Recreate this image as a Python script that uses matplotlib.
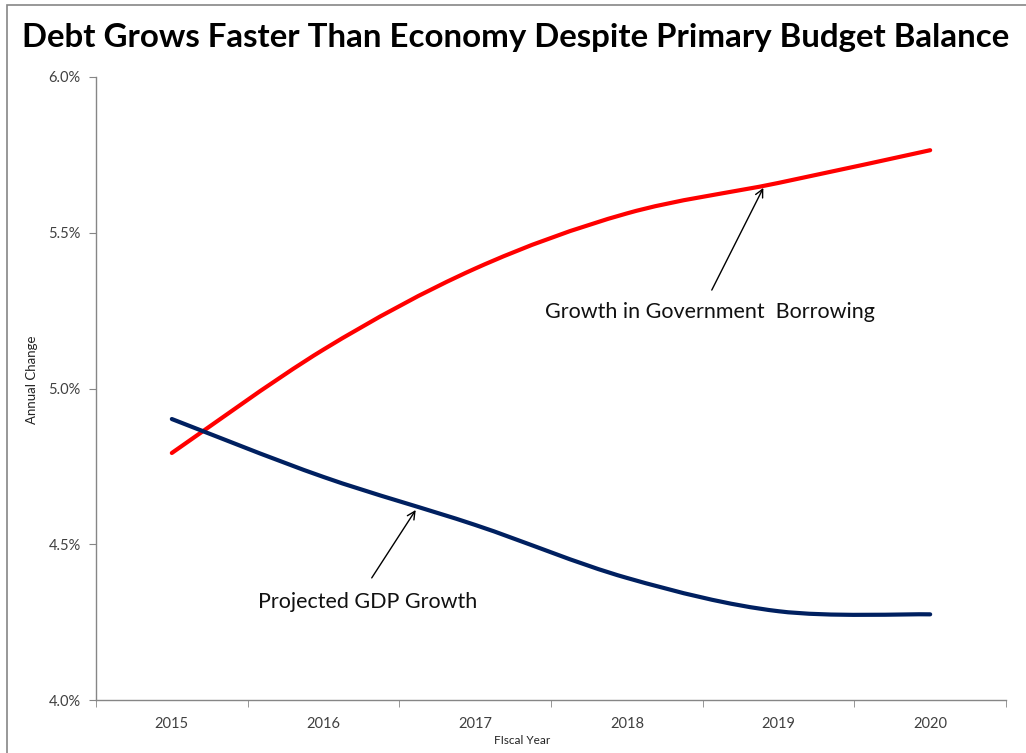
import numpy as np
import matplotlib
matplotlib.use('Agg')
import matplotlib.pyplot as plt
from matplotlib.path import Path
from matplotlib.patches import PathPatch, Rectangle
from matplotlib.ticker import FixedLocator, FuncFormatter

plt.rcParams['font.family'] = ['Lato', 'DejaVu Sans']

# data
years = ['2015', '2016', '2017', '2018', '2019', '2020']
borrowing = [4.793, 5.125, 5.385, 5.562, 5.660, 5.765]
gdp = [4.902, 4.716, 4.562, 4.392, 4.285, 4.275]


def smooth_path(xs, ys):
    # bezier segments with 1/6 tangents, like a spreadsheet "smoothed line"
    pts = np.column_stack([xs, ys]).astype(float)
    n = len(pts)
    verts = [pts[0]]
    codes = [Path.MOVETO]
    for i in range(n - 1):
        p0 = pts[max(i - 1, 0)]
        p1 = pts[i]
        p2 = pts[i + 1]
        p3 = pts[min(i + 2, n - 1)]
        c1 = p1 + (p2 - p0) / 6.0
        c2 = p2 - (p3 - p1) / 6.0
        verts += [c1, c2, p2]
        codes += [Path.CURVE4] * 3
    return Path(verts, codes)


fig = plt.figure(figsize=(10.26, 7.53), dpi=100)
ax = fig.add_axes([96 / 1026, 53 / 753, 910 / 1026, 623 / 753])

x = np.arange(len(years))
for vals, col in [(borrowing, '#ff0000'), (gdp, '#002060')]:
    patch = PathPatch(smooth_path(x, vals), facecolor='none', edgecolor=col,
                      lw=3.0, capstyle='round', joinstyle='round')
    ax.add_patch(patch)

ax.set_xlim(-0.5, len(years) - 0.5)
ax.set_ylim(4.0, 6.0)

# axes styling
for s in ['top', 'right']:
    ax.spines[s].set_visible(False)
for s in ['left', 'bottom']:
    ax.spines[s].set_color('#868686')
    ax.spines[s].set_linewidth(1.0)

ax.yaxis.set_major_locator(FixedLocator([4.0, 4.5, 5.0, 5.5, 6.0]))
ax.yaxis.set_major_formatter(FuncFormatter(lambda v, p: f'{v:.1f}%'))
ax.tick_params(axis='y', length=5, color='#868686', labelsize=10.5,
               labelcolor='#404040', pad=6)

ax.set_xticks(x)
ax.set_xticklabels(years)
ax.xaxis.set_minor_locator(FixedLocator(np.arange(len(years) + 1) - 0.5))
ax.tick_params(axis='x', which='major', length=0, labelsize=10.5,
               labelcolor='#404040', pad=12)
ax.tick_params(axis='x', which='minor', length=5, color='#868686')

# annotations
ax.annotate('', xy=(3.90, 5.644), xytext=(3.56, 5.316),
            arrowprops=dict(arrowstyle='->', color='black', lw=1.0,
                            mutation_scale=14, shrinkA=0, shrinkB=0))
ax.text(3.55, 5.246, 'Growth in Government  Borrowing', fontsize=15.5,
        ha='center', va='center', color='#111111')
ax.annotate('', xy=(1.608, 4.610), xytext=(1.318, 4.392),
            arrowprops=dict(arrowstyle='->', color='black', lw=1.0,
                            mutation_scale=14, shrinkA=0, shrinkB=0))
ax.text(1.292, 4.315, 'Projected GDP Growth', fontsize=15.5,
        ha='center', va='center', color='#111111')

# axis titles and headline
fig.text(32 / 1026, 1 - 380 / 753, 'Annual Change', rotation=90,
         fontsize=9.5, ha='center', va='center', color='#222222')
fig.text(522 / 1026, 1 - 740 / 753, 'FIscal Year', fontsize=8.5,
         ha='center', va='center', color='#222222')
fig.text(516 / 1026, 1 - 37 / 753,
         'Debt Grows Faster Than Economy Despite Primary Budget Balance',
         fontsize=23.8, fontweight='bold', ha='center', va='center')

# outer chart border
fig.patches.append(Rectangle((7 / 1026, -0.1), 1.2, 1 - 5 / 753 + 0.1,
                             transform=fig.transFigure, fill=False,
                             edgecolor='#868686', lw=1.2))

fig.savefig('out.png', dpi=100)
